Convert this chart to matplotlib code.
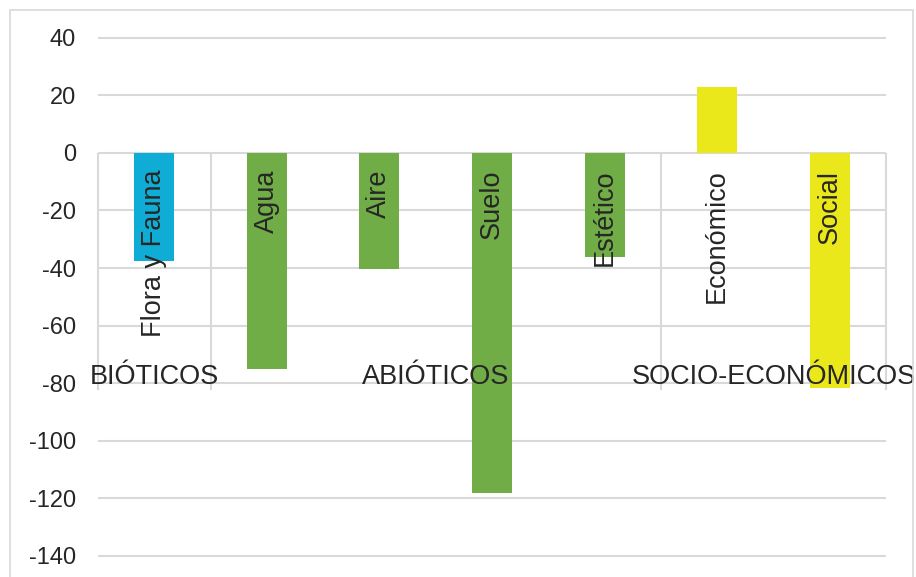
import matplotlib
matplotlib.use("Agg")
import matplotlib.pyplot as plt
from matplotlib.patches import Rectangle

categories = ["Flora y Fauna", "Agua", "Aire", "Suelo", "Estético", "Económico", "Social"]
values = [-37.5, -75, -40.5, -118, -36, 23, -81.5]
colors = ["#0FADD5", "#70AD47", "#70AD47", "#70AD47", "#70AD47", "#EAE71A", "#EAE71A"]
groups = ["BIÓTICOS", "ABIÓTICOS", "SOCIO-ECONÓMICOS"]
group_spans = [(0, 0), (1, 4), (5, 6)]
yticks = [40, 20, 0, -20, -40, -60, -80, -100, -120, -140]

plt.rcParams['font.family'] = ['Liberation Sans', 'DejaVu Sans']
W, H = 916, 577
fig = plt.figure(figsize=(W / 100, H / 100), dpi=100)
fig.patch.set_facecolor("white")

# outer chart border
fig.patches.append(Rectangle((10 / W, -0.05), (913 - 10) / W, (H - 10) / H + 0.05,
                             transform=fig.transFigure, fill=False,
                             edgecolor="#D9D9D9", linewidth=1.2))

left, right = 98 / W, 886 / W
top, bottom = 1 - 37.7 / H, 1 - 556 / H
ax = fig.add_axes([left, bottom, right - left, top - bottom])
ax.set_xlim(-0.5, len(categories) - 0.5)
ax.set_ylim(-140, 40)
for s in ax.spines.values():
    s.set_visible(False)

grid_c = "#D9D9D9"
ax.hlines(yticks, -0.5, len(categories) - 0.5, colors=grid_c, linewidth=1.5,
          zorder=0, clip_on=False)

# category table dividers
table_bottom = -82.5
dividers = [-0.5] + [s[1] + 0.5 for s in group_spans]
ax.vlines(dividers, table_bottom, 0, colors=grid_c, linewidth=1.5, zorder=0, clip_on=False)

x = list(range(len(categories)))
ax.bar(x, values, width=0.355, color=colors, zorder=2)

ax.set_yticks(yticks)
ax.set_yticklabels([str(v) for v in yticks])
ax.tick_params(axis='y', length=0, pad=16, labelsize=17, labelcolor="#262626")
ax.set_xticks([])

for xi, lab in zip(x, categories):
    ax.text(xi, -5.8, lab, rotation=90, ha='center', va='top', fontsize=19.5,
            color="#262626", zorder=3)

for g, (a, b) in zip(groups, group_spans):
    ax.text((a + b) / 2, -80.2, g, ha='center', va='baseline', fontsize=19.5,
            color="#262626", zorder=3, clip_on=False)

fig.savefig("out.png", dpi=100)
